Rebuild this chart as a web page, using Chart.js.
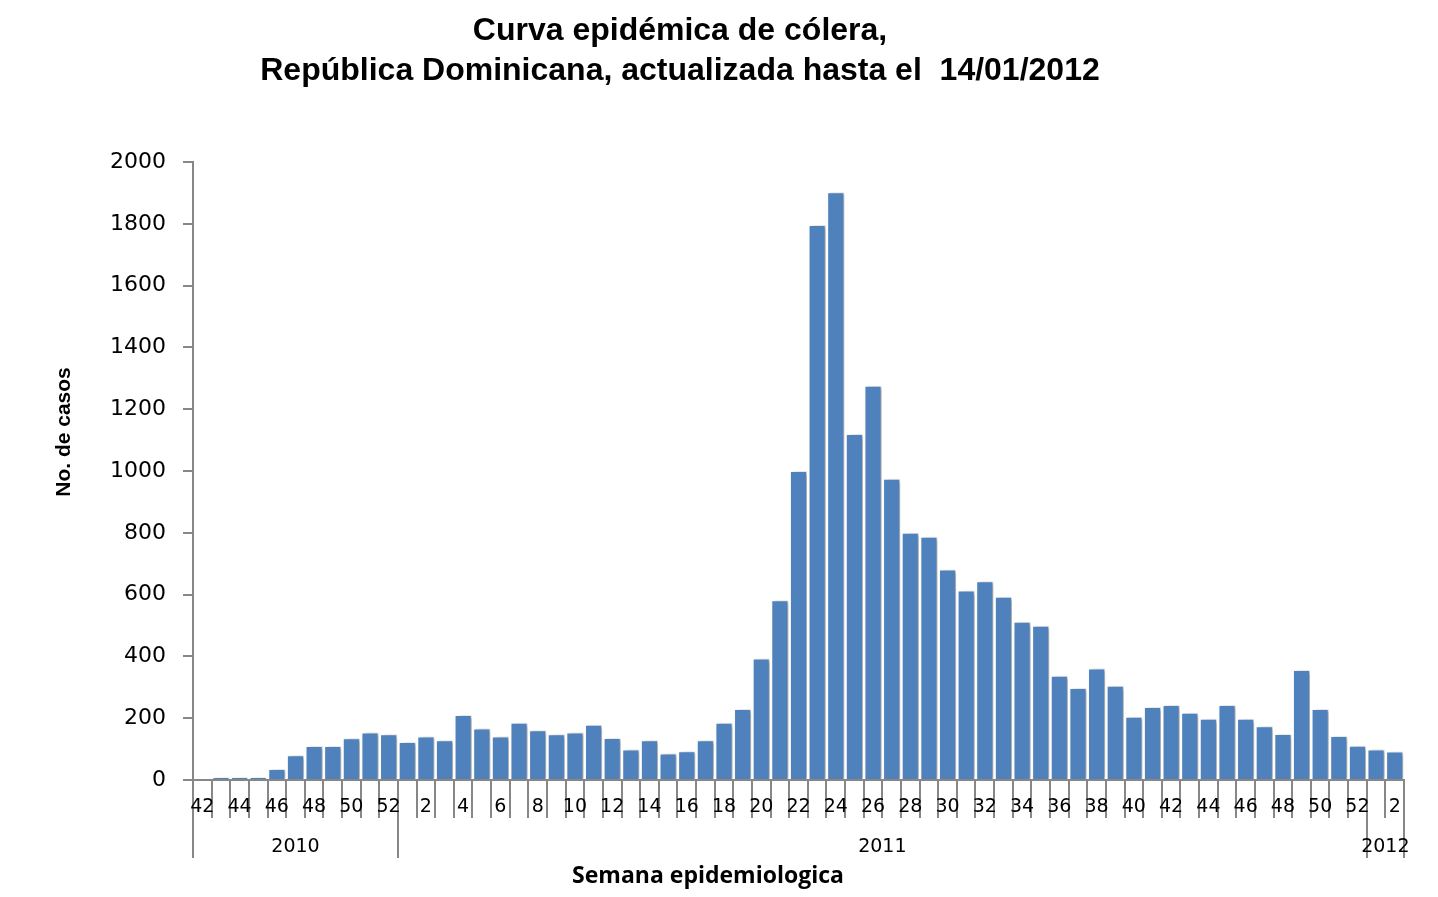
<!DOCTYPE html>
<html>
<head>
<meta charset="utf-8">
<script src="https://cdn.jsdelivr.net/npm/chart.js@4.4.1/dist/chart.umd.min.js"></script>
<style>
    html, body { margin: 0; padding: 0; background: #fff; }
    #wrap { width: 1438px; height: 897px; position: relative; }
</style>
</head>
<body>
<div id="wrap"><canvas id="c1" width="1438" height="897"></canvas></div>
<script>
const titleLines = ["Curva epidémica de cólera,", "República Dominicana, actualizada hasta el  14/01/2012"];
const yTitle = "No. de casos";
const xTitle = "Semana epidemiologica";
const years = ["2010", "2011", "2012"];

const weeks2010 = [42, 43, 44, 45, 46, 47, 48, 49, 50, 51, 52];
const weeks2011 = [1, 2, 3, 4, 5, 6, 7, 8, 9, 10, 11, 12, 13, 14, 15, 16, 17, 18, 19, 20,
    21, 22, 23, 24, 25, 26, 27, 28, 29, 30, 31, 32, 33, 34, 35, 36, 37, 38, 39, 40,
    41, 42, 43, 44, 45, 46, 47, 48, 49, 50, 51, 52];
const weeks2012 = [1, 2];

const cases2010 = [0, 10, 10, 10, 36, 80, 110, 110, 135, 154, 148];
const cases2011 = [123, 141, 129, 210, 167, 141, 185, 161, 148, 154, 179, 136, 99, 129, 86, 93, 129, 185, 230, 393,
    582, 1000, 1796, 1902, 1120, 1276, 975, 800, 787, 681, 613, 643, 593, 512, 499, 337, 298, 361, 305, 205,
    236, 243, 218, 198, 243, 198, 174, 149, 356, 230, 142, 111];
const cases2012 = [99, 92];

const yTicks = [0, 200, 400, 600, 800, 1000, 1200, 1400, 1600, 1800, 2000];

const weekGroups = [weeks2010, weeks2011, weeks2012];
const labels = [].concat(weeks2010, weeks2011, weeks2012).map(String);
const values = [].concat(cases2010, cases2011, cases2012);

const AXIS = '#878787';

// sombra de las barras
const shadowPlugin = {
    id: 'shadow',
    beforeDatasetsDraw(chart) {
        const ctx = chart.ctx;
        ctx.save();
        ctx.shadowColor = 'rgba(0,0,0,0.35)';
        ctx.shadowOffsetX = 3;
        ctx.shadowOffsetY = 1;
        ctx.shadowBlur = 4;
    },
    afterDatasetsDraw(chart) {
        chart.ctx.restore();
    }
};

// eje x de dos niveles, titulos
const decoPlugin = {
    id: 'deco',
    afterDraw(chart) {
        const ctx = chart.ctx;
        const x = chart.scales.x;
        const a = chart.chartArea;
        const step = x.getPixelForValue(1) - x.getPixelForValue(0);
        ctx.save();

        // tick marks entre categorias
        ctx.strokeStyle = AXIS;
        ctx.lineWidth = 2;
        const bounds = [0];
        let n = 0;
        weekGroups.forEach(g => { n += g.length; bounds.push(n); });
        for (let i = 0; i <= labels.length; i++) {
            const px = Math.round(x.getPixelForValue(i) - step / 2);
            const isGroup = bounds.includes(i);
            ctx.beginPath();
            ctx.moveTo(px, a.bottom);
            ctx.lineTo(px, a.bottom + (isGroup ? 78 : 38));
            ctx.stroke();
        }

        // etiquetas de semanas
        ctx.fillStyle = '#000';
        ctx.font = '19px "DejaVu Sans"';
        ctx.textAlign = 'center';
        ctx.textBaseline = 'middle';
        labels.forEach((l, i) => {
            if (i % 2 === 0) ctx.fillText(l, x.getPixelForValue(i), a.bottom + 27);
        });

        // etiquetas de años
        years.forEach((y, k) => {
            const p0 = x.getPixelForValue(bounds[k]) - step / 2;
            const p1 = x.getPixelForValue(bounds[k + 1]) - step / 2;
            ctx.fillText(y, (p0 + p1) / 2, a.bottom + 67);
        });

        // titulo del eje x
        ctx.font = 'bold 23px "Open Sans"';
        ctx.fillText(xTitle, 708, 876);

        // titulo del eje y
        ctx.save();
        ctx.translate(64, 432);
        ctx.rotate(-Math.PI / 2);
        ctx.font = 'bold 21px "Liberation Sans"';
        ctx.fillText(yTitle, 0, 0);
        ctx.restore();

        // titulo
        ctx.font = 'bold 32px "Liberation Sans"';
        ctx.fillText(titleLines[0], 680, 31);
        ctx.fillText(titleLines[1], 680, 71);

        ctx.restore();
    }
};

const chart = new Chart(document.getElementById('c1').getContext('2d'), {
    type: 'bar',
    data: {
        labels: labels,
        datasets: [{
            data: values,
            backgroundColor: '#4F81BD',
            borderColor: 'rgba(255,255,255,0.6)',
            borderWidth: 1,
            categoryPercentage: 1.0,
            barPercentage: 0.92
        }]
    },
    options: {
        responsive: false,
        animation: false,
        devicePixelRatio: 1,
        layout: { padding: { top: 162, right: 34, bottom: 0, left: 0 } },
        plugins: { legend: { display: false }, tooltip: { enabled: false }, title: { display: false } },
        scales: {
            x: {
                grid: { display: false },
                border: { display: true, color: AXIS, width: 2 },
                ticks: { display: false },
                afterFit(s) { s.height = 117; }
            },
            y: {
                min: 0,
                max: 2000,
                afterBuildTicks(s) { s.ticks = yTicks.map(v => ({ value: v })); },
                grid: { drawOnChartArea: false, drawTicks: true, tickLength: 10, color: AXIS, lineWidth: 2 },
                border: { display: true, color: AXIS, width: 2 },
                ticks: {
                    color: '#000',
                    font: { family: '"DejaVu Sans"', size: 22 },
                    padding: 17,
                    callback: v => String(v)
                },
                afterFit(s) { s.width = 193; }
            }
        }
    },
    plugins: [shadowPlugin, decoPlugin]
});
</script>
</body>
</html>
